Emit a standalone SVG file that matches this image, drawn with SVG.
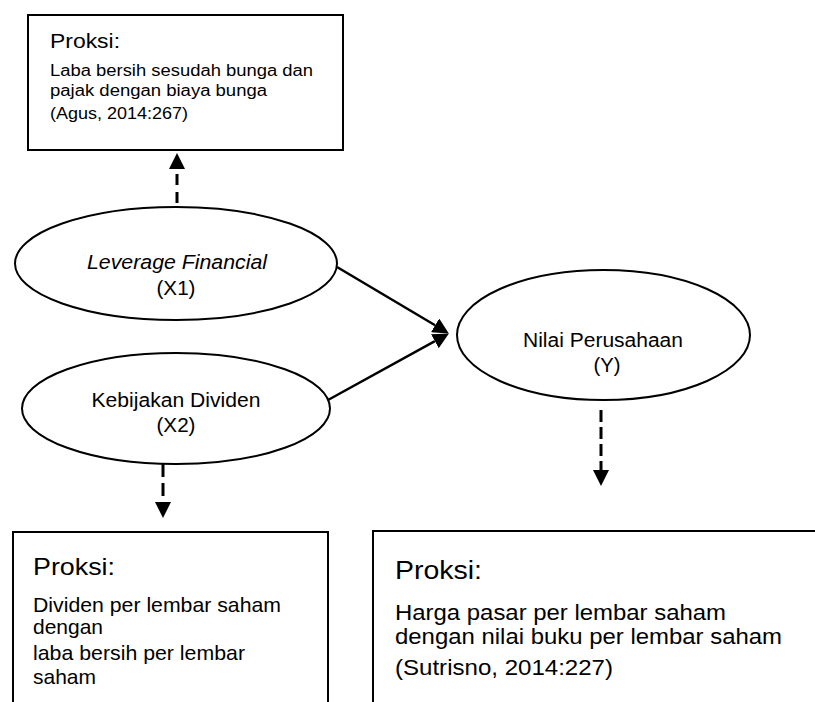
<svg xmlns="http://www.w3.org/2000/svg" width="815" height="702" viewBox="0 0 815 702">
<style>
  text { font-family: "Liberation Sans", Arial, sans-serif; fill: #000; }
  .box { fill: #fff; stroke: #000; stroke-width: 2; }
  .ell { fill: #fff; stroke: #000; stroke-width: 2; }
  .solid { stroke: #000; stroke-width: 2.5; fill: none; }
  .dash { stroke: #000; stroke-width: 3; fill: none; }
  .mid { text-anchor: middle; }
</style>
<defs>
  <marker id="ah" markerUnits="userSpaceOnUse" markerWidth="16" markerHeight="16" refX="0" refY="8" orient="auto" viewBox="0 0 16 16">
    <path d="M0,0 L16,8 L0,16 z" fill="#000"/>
  </marker>
</defs>
<rect width="815" height="702" fill="#fff"/>

<g id="proxy-x1">
  <rect class="box" x="28" y="15" width="315" height="135"/>
  <text x="50" y="48" font-size="20.5" textLength="70" lengthAdjust="spacingAndGlyphs">Proksi:</text>
  <text x="50" y="76" font-size="16" textLength="263" lengthAdjust="spacingAndGlyphs">Laba bersih sesudah bunga dan</text>
  <text x="50" y="96" font-size="16" textLength="217" lengthAdjust="spacingAndGlyphs">pajak dengan biaya bunga</text>
  <text x="50" y="119" font-size="16" textLength="138" lengthAdjust="spacingAndGlyphs">(Agus, 2014:267)</text>
</g>

<g id="x1">
  <ellipse class="ell" cx="176" cy="263.5" rx="161" ry="56.5"/>
  <text class="mid" x="177" y="269" font-size="19.5" font-style="italic" textLength="180" lengthAdjust="spacingAndGlyphs">Leverage Financial</text>
  <text class="mid" x="176" y="295" font-size="19.5" textLength="39" lengthAdjust="spacingAndGlyphs">(X1)</text>
</g>

<g id="x2">
  <ellipse class="ell" cx="176" cy="408.5" rx="154" ry="55.5"/>
  <text class="mid" x="176" y="407" font-size="19.5" textLength="169" lengthAdjust="spacingAndGlyphs">Kebijakan Dividen</text>
  <text class="mid" x="176" y="432" font-size="19.5" textLength="39" lengthAdjust="spacingAndGlyphs">(X2)</text>
</g>

<g id="y">
  <ellipse class="ell" cx="603.5" cy="335" rx="146.5" ry="65"/>
  <text class="mid" x="603" y="347" font-size="19.5" textLength="160" lengthAdjust="spacingAndGlyphs">Nilai Perusahaan</text>
  <text class="mid" x="607" y="372" font-size="19.5" textLength="27" lengthAdjust="spacingAndGlyphs">(Y)</text>
</g>

<g id="proxy-x2">
  <rect class="box" x="13" y="532" width="315" height="190"/>
  <text x="33" y="575" font-size="24" textLength="82" lengthAdjust="spacingAndGlyphs">Proksi:</text>
  <text x="33" y="612" font-size="21" textLength="248" lengthAdjust="spacingAndGlyphs">Dividen per lembar saham</text>
  <text x="33" y="634" font-size="21" textLength="70" lengthAdjust="spacingAndGlyphs">dengan</text>
  <text x="33" y="660" font-size="21" textLength="212" lengthAdjust="spacingAndGlyphs">laba bersih per lembar</text>
  <text x="33" y="684" font-size="21" textLength="63" lengthAdjust="spacingAndGlyphs">saham</text>
</g>

<g id="proxy-y">
  <rect class="box" x="373" y="531" width="470" height="190"/>
  <text x="395" y="579" font-size="26.5" textLength="87" lengthAdjust="spacingAndGlyphs">Proksi:</text>
  <text x="395" y="620" font-size="21.5" textLength="331" lengthAdjust="spacingAndGlyphs">Harga pasar per lembar saham</text>
  <text x="395" y="644" font-size="21.5" textLength="387" lengthAdjust="spacingAndGlyphs">dengan nilai buku per lembar saham</text>
  <text x="395" y="675" font-size="21.5" textLength="218" lengthAdjust="spacingAndGlyphs">(Sutrisno, 2014:227)</text>
</g>

<g id="connectors">
  <line class="solid" x1="337" y1="267" x2="435.1" y2="325.3" marker-end="url(#ah)"/>
  <line class="solid" x1="328" y1="400" x2="434.9" y2="341.2" marker-end="url(#ah)"/>
  <line class="dash" x1="177" y1="203" x2="177" y2="169" stroke-dasharray="11 7" marker-end="url(#ah)"/>
  <line class="dash" x1="163" y1="464" x2="163" y2="502" stroke-dasharray="13 6" marker-end="url(#ah)"/>
  <line class="dash" x1="601" y1="410" x2="601" y2="470" stroke-dasharray="12 5" marker-end="url(#ah)"/>
</g>
</svg>
